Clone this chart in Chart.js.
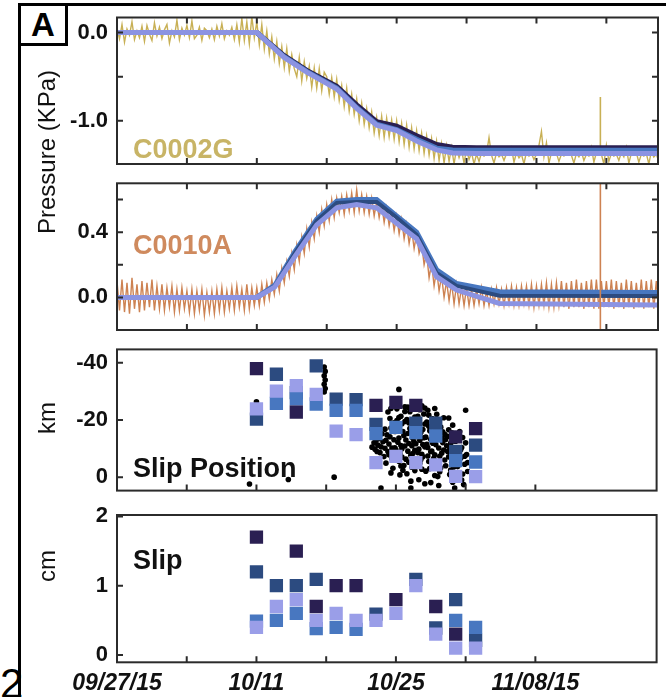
<!DOCTYPE html>
<html>
<head>
<meta charset="utf-8">
<script src="https://cdn.jsdelivr.net/npm/chart.js@4.4.1/dist/chart.umd.min.js"></script>
<style>
  body { margin:0; background:#fff; overflow:hidden; }
  #wrap { position:relative; width:666px; height:697px; overflow:hidden; font-family:'Liberation Sans', Arial, sans-serif; }
  canvas { position:absolute; left:0; }
  .lbl { position:absolute; font-weight:bold; font-size:27px; line-height:27px; white-space:nowrap; }
  .ytitle { position:absolute; font-size:24px; white-space:nowrap; transform:translate(-50%,-50%) rotate(-90deg); color:#111; }
</style>
</head>
<body>
<div id="wrap">
  <div style="position:absolute;left:18px;top:3px;width:660px;height:700px;border-top:3px solid #000;border-left:3px solid #000;"></div>
  <div style="position:absolute;left:18px;top:3px;width:44px;height:37px;border:3px solid #000;background:#fff;font:bold 33px 'Liberation Sans',Arial,sans-serif;line-height:37px;text-align:center;">A</div>
  <div style="position:absolute;left:0px;top:663px;font:42px 'Liberation Sans',Arial,sans-serif;line-height:42px;">2</div>

  <canvas id="p1" style="top:0px" width="666" height="170"></canvas>
  <canvas id="p2" style="top:175px" width="666" height="160"></canvas>
  <canvas id="p3" style="top:340px" width="666" height="160"></canvas>
  <canvas id="p4" style="top:505px" width="666" height="192"></canvas>

  <div class="ytitle" style="left:47px;top:152px;">Pressure (KPa)</div>
  <div class="ytitle" style="left:47px;top:418px;">km</div>
  <div class="ytitle" style="left:47px;top:566px;">cm</div>

  <div class="lbl" style="left:133px;top:136px;color:#c8b466;">C0002G</div>
  <div class="lbl" style="left:133px;top:232px;color:#cf8a5e;">C0010A</div>
  <div class="lbl" style="left:133px;top:455px;color:#111;">Slip Position</div>
  <div class="lbl" style="left:133px;top:547px;color:#111;">Slip</div>
</div>
<script>
// time axis: days since 09/27/15
const dayMax = 54.17;
const dateTicks = [0, 14, 28, 42];
const dateTickLabels = ['09/27/15', '10/11', '10/25', '11/08/15'];
const minorDays = [7, 14, 21, 28, 35, 42, 49];

// raw pressure records, hundredths of kPa, one sample every 6 h
const rawStep = 0.25;
const c0002gRaw = [
  5,-7,9,-11,4,-3,12,-8,2,-6, 7,-10,8,-2,-9,11,-4,6,-7,3, 9,-12,2,-5,14,-8,5,-3,8,-6,
  13,-7,-3,6,-9,5,2,-6,4,-8, 7,-4,10,-7,2,-3,6,-8,9,-11, 16,-9,12,-13,18,-6,
  12,-14,9,-19,2,-24,-5,-30, -10,-35,-16,-40,-18,-44,-25,-41,
  -50,-28,-55,-33,-52,-38,-62,-40, -63,-41,-66,-45,-50,-70,-51,-73,
  -53,-77,-60,-84,-63,-89,-70,-93, -75,-100,-80,-104,-86,-108,-90,-114,
  -96,-117,-95,-119,-97,-118,-99,-121, -100,-124,-103,-127,-105,-130,-108,-132,
  -111,-134,-114,-137,-117,-139,-120,-143, -123,-145,-126,-148,-128,-146,-130,-149,
  -131,-142,-133,-148,-132,-144,-136,-149,
  -138,-146,-136,-140, -137,-119,-139,-148, -136,-141,-138,-145, -137,-139,-131,-147,
  -136,-142,-138,-149, -135,-140,-137,-144, -138,-128,-112,-141, -125,-148,-136,-139,
  -137,-146,-138,-140, -136,-132,-139,-148, -137,-141,-135,-145, -138,-140,-130,-147,
  -136,-139,-138,-149, -128,-146,-137,-140, -138,-145,-136,-141, -130,-148,-137,-139,
  -136,-147,-138,-140, -137,-149,-135,-141, -138,-146
];
const c0010aRaw = [
  10,-8,11,-9,9,-10,12,-7, 8,-9,10,-8,9,-6,11,-8, 7,-7,8,-8,6,-6,7,-9,
  5,-8,6,-7,4,-9,5,-10, 4,-8,5,-11,3,-9,4,-10, 5,-8,6,-9,4,-7,6,-8,
  7,-6,5,-8,8,-7,6,-5,
  6,-5,8,-3,9,-1,11,2, 14,4,18,9,22,13,27,17, 32,22,37,27,42,31,46,36,
  50,40,54,44,57,47,60,49, 61,52,62,51,63,53,64,52, 66,53,63,52,62,51,61,50,
  59,49,57,46,55,44,52,41, 50,39,48,36,45,33,42,30, 39,27,33,20,27,12,21,7,
  17,4,13,0,10,-2,9,-4, 8,-4,6,-5,6,-5,5,-5, 5,-4,6,-5,4,-5,5,-4,
  6,-4,5,-5, 6,-4,7,-5, 6,-5,7,-4, 7,-5,8,-6, 7,-5,8,-5, 9,-6,8,-6,
  9,-5,10,-6, 9,-7,10,-6, 11,-6,9,-7, 10,-6,11,-7, 11,-7,10,-6, 10,-6,11,-7,
  10,-6,9,-7, 11,-6,10,-7, 9,-6,11,-7, 10,-6,11,-7, 10,-6
];
// single-sample glitch in both records (kPa)
const spikeDay = 48.4;
const c0002gSpike = [-1.37, -0.73];
const c0010aSpike = [-0.3, 0.8];

// model pressure histories (kPa)
const fitDays1 = [0, 14, 16.7, 19, 22, 24, 26, 28, 30, 32, 33.6, 36, 54.2];
const c0002gFitDark = [0, 0, -0.26, -0.43, -0.61, -0.82, -1.01, -1.06, -1.17, -1.27, -1.30, -1.305, -1.305];
const c0002gFitMid  = [0, 0, -0.27, -0.44, -0.63, -0.85, -1.04, -1.10, -1.21, -1.31, -1.33, -1.335, -1.335];
const c0002gFitLight = [0, 0, -0.28, -0.45, -0.64, -0.86, -1.05, -1.11, -1.23, -1.33, -1.365, -1.37, -1.37];
const fitDays2 = [0, 14, 15.8, 17.8, 20, 22, 24, 26, 28, 30, 32, 34, 38.3, 54.2];
const c0010aFitDark = [0, 0, 0.07, 0.27, 0.47, 0.58, 0.585, 0.585, 0.49, 0.385, 0.15, 0.07, 0.01, 0.008];
const c0010aFitMid  = [0, 0, 0.075, 0.28, 0.48, 0.59, 0.60, 0.60, 0.50, 0.40, 0.17, 0.085, 0.035, 0.03];
const c0010aFitLight = [0, 0, 0.065, 0.25, 0.445, 0.55, 0.57, 0.55, 0.455, 0.36, 0.127, 0.045, -0.037, -0.047];

// slip patches every 2 days, four models
const slipDays = [14, 16, 18, 20, 22, 24, 26, 28, 30, 32, 34, 36];
const posDark  = [-38.0, null, -22.8, null, null, null, -25.1, -26.2, -25.1, null, -14.1, -17.0];
const posNavy  = [-20.3, -36.0, -29.6, -38.9, -27.3, -27.1, -18.5, null, -18.9, -18.9, -9.0, -11.2];
const posMid   = [null, -25.8, -27.5, -25.6, -23.4, -23.4, -15.2, -17.4, -15.6, -14.4, -5.8, -5.3];
const posLight = [-23.9, -30.1, -32.0, -29.0, -16.1, -14.9, -5.1, -7.3, -5.1, -4.3, -0.3, -0.2];
const slipDark  = [1.70, null, 1.50, 0.70, 1.00, 1.00, null, 0.80, null, 0.70, 0.30, null];
const slipNavy  = [1.20, 1.00, 1.00, 1.09, null, null, 0.59, null, 1.09, 0.39, 0.80, 0.21];
const slipMid   = [0.49, 0.50, 0.60, 0.38, 0.40, 0.37, null, null, null, null, 0.50, 0.40];
const slipLight = [0.40, 0.70, 0.80, 0.50, 0.60, 0.50, 0.50, 0.60, 1.00, 0.30, 0.10, 0.10];

// tremor locations [day, km]
const tremorDots = [
  [13.3,2.4],[17.2,0.8],[21.8,0.0],[28.3,-30.7],[35.0,-23.4],[26.5,3.8],[29.5,3.8],[33.9,3.8],[14.0,-26.4],
  [20.8,-38.5],[20.9,-37],[20.8,-35.5],[20.9,-34],[20.8,-32.5],[20.9,-31],[20.8,-29.8],
  [25.6,-10.5],[25.9,-9.8],[26.2,-11.2],[26.4,-8.6],[26.7,-12.4],[26.9,-10.1],[26.3,-13.5],[26.8,-7.2],[25.8,-12.0],
  [27.1,-14.8],[27.3,-11.6],[27.2,-9.0],[27.5,-17.2],[27.6,-6.4],[27.8,-13.1],[27.4,-20.5],[27.9,-10.3],[27.7,-3.1],[27.2,-22.8],[27.9,-16.0],[27.5,-1.5],
  [28.1,-23.9],[28.2,-12.2],[28.4,-8.3],[28.6,-18.7],[28.3,-5.6],[28.8,-14.6],[28.5,-21.3],[28.9,-10.9],[28.7,-2.4],[28.2,-16.9],[28.9,-24.6],[28.4,-0.8],[28.6,-7.0],[28.1,-19.8],[28.8,-4.1],
  [29.1,-20.2],[29.3,-11.8],[29.2,-15.3],[29.5,-7.7],[29.4,-22.9],[29.7,-13.6],[29.6,-3.5],[29.8,-18.1],[29.9,-9.4],[29.1,-1.2],[29.4,-17.0],[29.7,-25.3],[29.3,-5.2],[29.8,-12.5],[29.5,1.4],[29.9,-21.0],
  [30.1,-14.2],[30.3,-9.8],[30.2,-19.6],[30.5,-6.1],[30.4,-12.9],[30.7,-16.7],[30.6,-2.8],[30.8,-22.1],[30.9,-10.6],[30.3,0.9],[30.6,-8.0],[30.1,-4.4],[30.8,-13.8],[30.4,-23.6],[30.9,2.3],
  [31.1,-11.5],[31.3,-17.8],[31.2,-7.4],[31.5,-13.2],[31.4,-3.0],[31.7,-20.4],[31.6,-9.1],[31.8,-15.0],[31.9,-0.6],[31.3,-5.5],[31.7,-11.9],[31.1,-19.3],[31.5,1.9],[31.9,-7.8],
  [32.1,-14.6],[32.3,-10.2],[32.2,-4.8],[32.5,-17.5],[32.4,-1.9],[32.7,-12.1],[32.6,-8.4],[32.8,-20.8],[32.9,-6.0],[32.3,2.9],[32.7,-15.9],[32.5,-3.3],[32.1,-22.0],
  [33.1,-11.0],[33.3,-7.1],[33.2,-14.3],[33.5,-2.5],[33.4,-9.6],[33.7,-18.2],[33.6,-5.2],[33.8,-12.7],[33.9,0.4],[33.3,-16.6],[33.7,1.8],[33.3,-20.7],
  [34.1,-8.9],[34.3,-13.4],[34.2,-3.7],[34.5,-6.6],[34.4,-16.0],[34.7,-1.1],[34.6,-10.4],[34.9,-4.5],[35.1,-7.9],[35.2,-2.0],[34.8,2.6],[35.0,-12.0],
  [27.5,-24.0],[28.0,-25.5],[28.9,-23.0],[29.2,-24.5],[30.0,-23.8],[30.6,-25.0],[31.2,-23.4],[31.9,-24.0],[30.9,-24.2],
  [26.6,-15.2],[26.9,-16.8],[27.0,-12.9],[27.3,-7.8],[27.6,-10.2],[27.8,-19.0],[27.0,-4.9],[27.4,-14.1],
  [28.0,-9.6],[28.3,-13.7],[28.5,-11.1],[28.7,-16.0],[28.0,-6.8],[28.5,-3.9],[28.9,-19.5],[28.6,-9.9],[28.3,-20.9],
  [29.0,-13.0],[29.2,-9.1],[29.5,-16.3],[29.6,-11.0],[29.9,-14.8],[29.0,-6.3],[29.3,-19.0],[29.7,-8.3],[29.9,-2.3],
  [30.0,-11.7],[30.2,-8.6],[30.5,-15.6],[30.7,-11.4],[30.9,-18.6],[30.2,-21.3],[30.4,-4.9],[30.7,-7.1],[30.0,-17.3],
  [31.0,-14.0],[31.2,-10.4],[31.4,-16.2],[31.6,-12.8],[31.8,-6.6],[31.0,-2.1],[31.3,-21.7],[31.9,-17.1],[31.5,-8.9],
  [32.0,-11.4],[32.2,-16.1],[32.4,-7.3],[32.6,-13.7],[32.8,-9.5],[32.0,-19.2],[32.9,-15.0],[32.2,-0.2],
  [33.0,-13.2],[33.2,-9.0],[33.5,-11.9],[33.6,-15.5],[33.9,-8.2],[33.0,-4.0],[33.4,-0.9],[33.8,-3.6],
  [34.0,-12.6],[34.2,-6.2],[34.5,-9.6],[34.7,-13.9],[34.9,-7.3],[34.3,-0.1],[35.2,-5.1],[34.6,1.0],
  [26.1,-9.0],[26.5,-10.6],[26.0,-12.8]
];

const gold = '#c8b055', copper = '#cd8252';
const cDark = '#2a1f52', cNavy = '#2c4b80', cMid = '#4877c0', cLight = '#9a9ee8';

Chart.defaults.font.family = "'Liberation Sans', Arial, sans-serif";
Chart.defaults.color = '#111';

// frame round the plot area plus inward tick marks
const framePlugin = {
  id: 'frame',
  afterDatasetsDraw(chart, args, opts) {
    const { ctx, chartArea: a, scales } = chart;
    const len = 6;
    ctx.save();
    ctx.strokeStyle = '#2b2b2b';
    ctx.lineWidth = 2;
    ctx.beginPath();
    opts.xTicks.forEach(v => {
      const px = scales.x.getPixelForValue(v);
      ctx.moveTo(px, a.bottom); ctx.lineTo(px, a.bottom - len);
      if (opts.top) { ctx.moveTo(px, a.top); ctx.lineTo(px, a.top + len); }
    });
    scales.y.ticks.forEach(t => {
      const py = scales.y.getPixelForValue(t.value);
      ctx.moveTo(a.left, py); ctx.lineTo(a.left + len, py);
      if (opts.right) { ctx.moveTo(a.right, py); ctx.lineTo(a.right - len, py); }
    });
    ctx.stroke();
    ctx.strokeRect(a.left, a.top, a.right - a.left, a.bottom - a.top);
    ctx.restore();
  }
};

const pts = (xs, ys, k = 1) => xs.map((x, i) => ({ x, y: ys[i] == null ? null : ys[i] * k })).filter(p => p.y !== null);
const rawDays = c0002gRaw.map((_, i) => i * rawStep);

function line(data, color, width, order) {
  return { data, borderColor: color, borderWidth: width, pointRadius: 0, fill: false, tension: 0, order };
}
function squares(data, color, order) {
  return { data, showLine: false, pointStyle: 'rect', pointRadius: 9.4, pointBorderWidth: 0,
           pointBackgroundColor: color, pointBorderColor: color, order };
}

function makePanel(id, p) {
  return new Chart(document.getElementById(id), {
    type: 'line',
    data: { datasets: p.datasets },
    plugins: [framePlugin],
    options: {
      responsive: false, animation: false, devicePixelRatio: 1, events: [],
      layout: { padding: { left: 0, right: 8, top: p.padTop, bottom: p.padBottom } },
      plugins: { legend: { display: false }, tooltip: { enabled: false },
                 frame: { xTicks: p.xTicks, top: p.boxTicks, right: p.boxTicks } },
      scales: {
        x: {
          type: 'linear', min: 0, max: dayMax, display: p.showDates,
          grid: { display: false, drawTicks: false }, border: { display: false },
          afterBuildTicks: s => { s.ticks = dateTicks.map(v => ({ value: v })); },
          afterFit: s => {
            s.height = p.showDates ? 30 : 0;
            s.paddingLeft = 0; s.paddingRight = 0;
          },
          ticks: { autoSkip: false, maxRotation: 0, padding: 8,
                   font: { size: 23, weight: 'bold', style: 'italic' },
                   callback: (v, i) => dateTickLabels[i] }
        },
        y: {
          type: 'linear', min: p.yMin, max: p.yMax, reverse: !!p.reverse,
          grid: { display: false, drawTicks: false }, border: { display: false },
          afterBuildTicks: s => { s.ticks = p.yTicks.map(v => ({ value: v })); },
          afterFit: s => { s.width = 117; s.paddingTop = 0; s.paddingBottom = 0; },
          ticks: { autoSkip: false, padding: 9, font: { size: 22, weight: 'bold' },
                   callback: (v, i) => p.yLabels[i] }
        }
      }
    }
  });
}

// C0002G pressure
makePanel('p1', {
  padTop: 17.5, padBottom: 6, yMin: -1.49, yMax: 0.17,
  yTicks: [0, -0.5, -1], yLabels: ['0.0', '', '-1.0'],
  xTicks: minorDays, boxTicks: true, showDates: false,
  datasets: [
    line(pts(rawDays, c0002gRaw, 0.01), gold, 1.4, 10),
    line(pts([spikeDay, spikeDay], c0002gSpike), gold, 1.6, 9),
    line(pts(fitDays1, c0002gFitDark), cDark, 5, 3),
    line(pts(fitDays1, c0002gFitMid), cMid, 5, 2),
    line(pts(fitDays1, c0002gFitLight), '#8b93e2', 5, 1)
  ]
});

// C0010A pressure
makePanel('p2', {
  padTop: 8.3, padBottom: 5, yMin: -0.2, yMax: 0.70,
  yTicks: [0, 0.2, 0.4, 0.6], yLabels: ['0.0', '', '0.4', ''],
  xTicks: minorDays, boxTicks: true, showDates: false,
  datasets: [
    line(pts(rawDays, c0010aRaw, 0.01), copper, 1.4, 10),
    line(pts([spikeDay, spikeDay], c0010aSpike), copper, 1.6, 0),
    line(pts(fitDays2, c0010aFitMid), cMid, 5, 3),
    line(pts(fitDays2, c0010aFitDark), cNavy, 4, 2),
    line(pts(fitDays2, c0010aFitLight), '#8b93e2', 5, 1)
  ]
});

// slip position along strike
makePanel('p3', {
  padTop: 8.3, padBottom: 5, yMin: -44.7, yMax: 4.7, reverse: true,
  yTicks: [0, -20, -40], yLabels: ['0', '-20', '-40'],
  xTicks: minorDays.slice(0, 6), boxTicks: false, showDates: false,
  datasets: [
    { data: tremorDots.map(([x, y]) => ({ x, y })), showLine: false, pointRadius: 2.8,
      pointBorderWidth: 0, pointBackgroundColor: '#000', order: 10 },
    squares(pts(slipDays, posDark), cDark, 4),
    squares(pts(slipDays, posNavy), cNavy, 3),
    squares(pts(slipDays, posMid), cMid, 2),
    squares(pts(slipDays, posLight), cLight, 1)
  ]
});

// slip amount
makePanel('p4', {
  padTop: 10, padBottom: 4.7, yMin: -0.105, yMax: 2.02,
  yTicks: [0, 1, 2], yLabels: ['0', '1', '2'],
  xTicks: minorDays.slice(0, 6), boxTicks: false, showDates: true,
  datasets: [
    squares(pts(slipDays, slipDark), cDark, 4),
    squares(pts(slipDays, slipNavy), cNavy, 3),
    squares(pts(slipDays, slipMid), cMid, 2),
    squares(pts(slipDays, slipLight), cLight, 1)
  ]
});
</script>
</body>
</html>
